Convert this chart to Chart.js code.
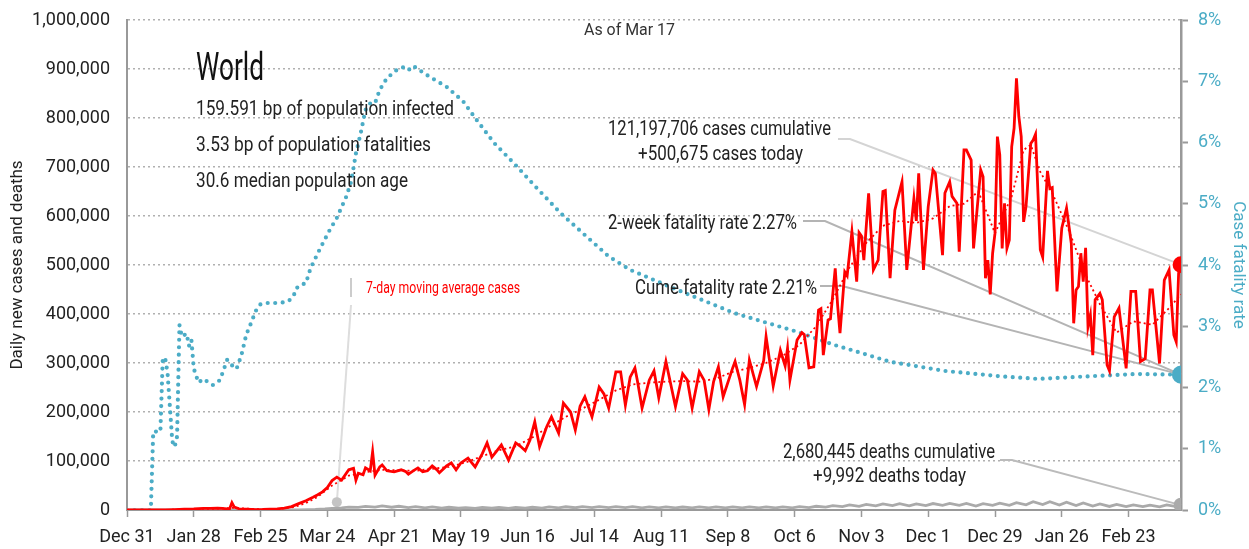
<!DOCTYPE html>
<html>
<head>
<meta charset="utf-8">
<script src="https://cdn.jsdelivr.net/npm/chart.js@4"></script>
<style>
  html, body { margin: 0; padding: 0; background: #fff; }
  #wrap { width: 1249px; height: 549px; position: relative; }
</style>
</head>
<body>
<div id="wrap"><canvas id="myChart"></canvas></div>
<script>
/* data: x = days since Dec 31, 2019 */
const xTickLabels = ['Dec 31', 'Jan 28', 'Feb 25', 'Mar 24', 'Apr 21', 'May 19', 'Jun 16', 'Jul 14',
  'Aug 11', 'Sep 8', 'Oct 6', 'Nov 3', 'Dec 1', 'Dec 29', 'Jan 26', 'Feb 23'];

const dailyCases = [
  [0,0],[12,0],[16,100],[20,800],[24,1800],[28,2100],[32,3300],[35,3200],[38,3800],[40,3200],[42,2500],
  [43,2000],[44,15000],[45,6000],[47,2500],[50,1600],[54,700],[57,1000],[60,1700],[63,2500],[66,3800],
  [69,7000],[72,13000],[75,19000],[78,26000],[80,31000],[82,37000],[84,46000],[86,60000],[88,67000],
  [90,61000],[93,82000],[95,85000],[96,61000],[97,75000],[99,72000],[100,86000],[102,80000],[103,119000],
  [104,71000],[106,88000],[107,92000],[109,80000],[112,78000],[115,82000],[117,78000],[118,73000],
  [120,80000],[122,86000],[124,78000],[126,80000],[128,90000],[130,82000],[131,76000],[134,90000],
  [136,96000],[138,82000],[140,96000],[143,106000],[146,88000],[149,115000],[151,137000],[153,108000],
  [155,120000],[157,133000],[160,102000],[163,137000],[165,130000],[167,121000],[169,143000],[171,180000],
  [173,129000],[176,170000],[178,190000],[181,157000],[183,218000],[186,200000],[188,163000],[190,212000],
  [192,231000],[195,190000],[198,251000],[200,237000],[202,208000],[205,282000],[207,282000],[209,214000],
  [211,271000],[213,290000],[214,265000],[216,208000],[219,265000],[221,284000],[223,229000],[226,303000],
  [230,211000],[233,278000],[235,265000],[237,208000],[240,282000],[242,265000],[244,205000],[246,262000],
  [248,292000],[250,231000],[254,290000],[255,303000],[257,265000],[259,215000],[261,306000],[264,252000],
  [267,305000],[268,354000],[271,253000],[274,326000],[276,294000],[277,330000],[278,265000],[281,347000],
  [283,362000],[284,358000],[286,290000],[288,292000],[290,408000],[291,411000],[292,316000],[294,388000],
  [295,390000],[297,493000],[298,418000],[299,361000],[301,486000],[302,478000],[304,568000],[306,466000],
  [307,566000],[308,559000],[309,510000],[311,646000],[313,490000],[315,510000],[317,650000],[318,652000],
  [320,473000],[322,612000],[325,670000],[327,490000],[330,636000],[331,590000],[332,687000],[334,490000],
  [336,619000],[338,694000],[339,687000],[342,520000],[343,647000],[345,670000],[346,640000],[348,626000],
  [349,527000],[351,735000],[352,735000],[354,714000],[355,534000],[358,694000],[359,680000],[360,473000],
  [361,510000],[362,440000],[363,524000],[364,565000],[365,762000],[366,725000],[367,534000],[368,626000],
  [369,534000],[370,551000],[371,741000],[372,779000],[373,881000],[374,803000],[375,762000],[376,588000],
  [377,619000],[379,748000],[380,755000],[381,767000],[383,531000],[384,516000],[386,692000],[387,656000],
  [388,658000],[390,446000],[392,575000],[394,616000],[396,544000],[397,381000],[398,449000],[399,456000],
  [400,524000],[401,466000],[402,535000],[403,374000],[404,398000],[405,316000],[406,429000],[408,442000],
  [409,429000],[411,296000],[412,284000],[414,394000],[416,412000],[419,289000],[421,446000],[423,446000],
  [425,303000],[427,309000],[429,449000],[430,449000],[433,299000],[435,469000],[437,490000],[439,357000],
  [440,343000],[441,483000],[442,500675]
];

const movingAvgCases = [
  [0,0],[20,500],[30,2000],[40,2800],[44,4500],[50,3000],[57,1200],[64,2500],[70,6000],[75,14000],
  [80,27000],[86,50000],[93,70000],[100,77000],[107,82000],[114,81000],[121,80000],[128,84000],[135,88000],
  [142,97000],[149,110000],[156,122000],[163,130000],[170,148000],[177,170000],[184,190000],[191,207000],
  [198,225000],[205,244000],[212,256000],[219,260000],[226,262000],[233,263000],[240,262000],[247,268000],
  [254,282000],[261,290000],[268,300000],[275,315000],[282,337000],[289,375000],[296,430000],[303,495000],
  [310,545000],[317,580000],[324,590000],[331,586000],[338,595000],[345,620000],[351,625000],[357,650000],
  [364,565000],[371,640000],[376,735000],[379,745000],[383,690000],[388,647000],[395,570000],[402,480000],
  [408,420000],[415,362000],[422,385000],[430,378000],[437,412000],[442,440000]
];

const dailyDeaths = [
  [0,0],[20,50],[24,60],[30,60],[34,90],[38,100],[42,110],[44,250],[46,140],[50,100],[55,80],[58,70],
  [62,80],[65,120],[69,280],[72,350],[76,750],[79,1100],[83,2200],[86,3400],[90,4200],[93,6000],[97,5300],
  [100,7300],[104,5800],[107,8200],[111,5600],[114,7600],[118,5000],[121,7000],[125,4300],[128,6200],
  [132,3900],[135,5600],[139,3600],[142,5000],[146,3400],[149,5100],[153,3600],[156,5200],[160,3500],
  [163,5300],[167,3900],[170,5600],[174,4000],[177,6200],[181,4300],[184,6600],[188,4600],[191,6800],
  [195,4700],[198,7000],[202,4800],[205,6800],[209,4700],[212,6700],[216,4400],[219,6300],[223,4300],
  [226,6200],[230,4200],[233,6100],[237,4300],[240,6200],[244,4200],[247,6200],[251,4300],[254,6300],
  [258,4200],[261,6300],[265,4300],[268,6300],[272,4500],[275,6500],[279,4400],[282,6700],[286,5000],
  [289,7600],[293,6000],[296,9000],[300,6800],[303,10400],[307,7500],[310,11500],[314,8400],[317,12600],
  [321,8800],[324,12800],[328,8400],[331,12600],[335,9000],[338,13200],[342,9600],[345,13600],[349,9600],
  [352,13300],[356,8200],[359,12800],[363,9500],[366,13800],[370,9600],[373,15000],[377,10500],[380,16800],
  [384,11000],[387,17000],[391,10000],[394,16000],[398,9000],[401,14500],[405,8000],[408,12500],[412,7300],
  [415,11500],[419,6900],[422,10500],[426,6800],[429,10000],[433,6500],[436,10500],[440,6800],[442,9992]
];

// case fatality rate, percent (right axis)
const fatalityRate = [
  [0,0],[10,0],[11,1.28],[14,1.28],[15,2.48],[16,2.48],[17,2.24],[19,1.12],[20,1.03],[21,1.2],[22,3.02],
  [23,2.83],[25,2.88],[26,2.68],[27,2.78],[28,2.31],[29,2.19],[30,2.08],[32,2.14],[36,2.04],[39,2.12],
  [42,2.45],[43,2.42],[45,2.31],[46,2.31],[47,2.42],[48,2.53],[50,2.86],[52,3.05],[54,3.25],[56,3.36],
  [59,3.38],[64,3.38],[67,3.40],[68,3.42],[70,3.51],[71,3.62],[73,3.68],[75,3.70],[77,3.95],[81,4.27],
  [85,4.57],[88,4.77],[92,5.12],[94,5.36],[96,5.82],[98,6.15],[100,6.53],[102,6.64],[104,6.64],[106,6.86],
  [109,7.05],[113,7.18],[116,7.23],[118,7.18],[120,7.25],[127,7.07],[134,6.91],[141,6.67],[146,6.40],
  [154,5.99],[163,5.63],[172,5.25],[182,4.84],[192,4.49],[202,4.14],[211,3.92],[231,3.59],[255,3.21],
  [281,2.91],[297,2.69],[304,2.61],[320,2.42],[343,2.27],[367,2.18],[382,2.14],[402,2.18],[423,2.22],
  [442,2.21]
];

const RED = '#ff0000';
const BLUE = '#4bacc6';
const GRAY = '#aaaaaa';
const FONT = 'Roboto, "DejaVu Sans", sans-serif';

const toXY = arr => arr.map(p => ({x: p[0], y: p[1]}));
const lastOnly = r => ctx => ctx.dataIndex === ctx.dataset.data.length - 1 ? r : 0;

/* callouts and text */
const annotations = {
  id: 'annotations',
  beforeDatasetsDraw(chart) {
    const {ctx, scales: {x, y, y2}} = chart;
    const endX = x.getPixelForValue(442);
    const line = (pts, color) => {
      ctx.save();
      ctx.strokeStyle = color;
      ctx.lineWidth = 2;
      ctx.beginPath();
      ctx.moveTo(pts[0][0], pts[0][1]);
      pts.slice(1).forEach(p => ctx.lineTo(p[0], p[1]));
      ctx.stroke();
      ctx.restore();
    };
    const lastCase = dailyCases[dailyCases.length - 1][1];
    const lastDeath = dailyDeaths[dailyDeaths.length - 1][1];
    const lastRate = fatalityRate[fatalityRate.length - 1][1];
    line([[838, 139], [850, 139], [endX, y.getPixelForValue(lastCase)]], '#d4d4d4');
    line([[803, 221], [825, 221], [endX, y2.getPixelForValue(lastRate)]], '#b4b4b4');
    line([[820, 286], [842, 286], [endX, y2.getPixelForValue(lastRate)]], '#b4b4b4');
    line([[1000, 460], [1012, 460], [endX, y.getPixelForValue(lastDeath)]], '#bbbbbb');
    // 7-day average pointer
    const dx = x.getPixelForValue(88), dy = y.getPixelForValue(16000);
    line([[351, 305], [dx, dy]], '#dddddd');
    line([[351, 278], [351, 297]], '#cccccc');
    ctx.save();
    ctx.fillStyle = '#c4c4c4';
    ctx.beginPath();
    ctx.arc(dx, dy, 5, 0, Math.PI * 2);
    ctx.fill();
    ctx.restore();
  },
  afterDraw(chart) {
    const {ctx} = chart;
    // condensed look: squeeze each string to the width it has in the original
    const text = (s, px, py, size, align, width, color) => {
      ctx.save();
      ctx.font = size + 'px ' + FONT;
      const k = width / ctx.measureText(s).width;
      ctx.translate(px, py);
      ctx.scale(k, 1);
      ctx.fillStyle = color || '#222';
      ctx.textAlign = align;
      ctx.textBaseline = 'alphabetic';
      ctx.fillText(s, 0, 0);
      ctx.restore();
    };
    text('As of Mar 17', 629.5, 35, 17, 'center', 91, '#333');
    text('World', 196, 80, 38, 'left', 68, '#111');
    text('159.591 bp of population infected', 196, 115, 21, 'left', 258);
    text('3.53 bp of population fatalities', 196, 151, 21, 'left', 235);
    text('30.6 median population age', 196, 187, 21, 'left', 212);
    text('121,197,706 cases cumulative', 719.5, 135, 21, 'center', 223);
    text('+500,675 cases today', 720.5, 159.5, 21, 'center', 165);
    text('2-week fatality rate 2.27%', 797, 228.5, 21, 'right', 189);
    text('Cume fatality rate 2.21%', 817, 293.5, 21, 'right', 182);
    text('2,680,445 deaths cumulative', 889, 457.5, 21, 'center', 212);
    text('+9,992 deaths today', 889.5, 481.5, 21, 'center', 153);
    text('7-day moving average cases', 366, 293, 16, 'left', 154, RED);
  }
};

const ctx = document.getElementById('myChart').getContext('2d');
const myChart = new Chart(ctx, {
  type: 'line',
  data: {
    datasets: [
      {
        label: 'Daily new cases',
        data: toXY(dailyCases),
        borderColor: RED,
        backgroundColor: RED,
        borderWidth: 2.8,
        pointRadius: lastOnly(7),
        yAxisID: 'y',
        order: 1
      },
      {
        label: '7-day moving average cases',
        data: toXY(movingAvgCases),
        borderColor: RED,
        borderWidth: 1.8,
        borderDash: [2, 3],
        pointRadius: 0,
        yAxisID: 'y',
        order: 2
      },
      {
        label: 'Daily deaths',
        data: toXY(dailyDeaths),
        borderColor: GRAY,
        backgroundColor: GRAY,
        borderWidth: 2.8,
        pointRadius: lastOnly(6),
        yAxisID: 'y',
        order: 3
      },
      {
        label: 'Case fatality rate',
        data: toXY(fatalityRate),
        borderColor: BLUE,
        backgroundColor: BLUE,
        borderWidth: 4.2,
        borderDash: [0, 7.5],
        borderCapStyle: 'round',
        pointRadius: lastOnly(7),
        yAxisID: 'y2',
        order: 4
      }
    ]
  },
  options: {
    responsive: true,
    maintainAspectRatio: false,
    animation: false,
    layout: {padding: {top: 20}},
    plugins: {legend: {display: false}, tooltip: {enabled: false}},
    scales: {
      x: {
        type: 'linear',
        min: 0,
        max: 442,
        afterBuildTicks: s => { s.ticks = xTickLabels.map((_, i) => ({value: i * 28})); },
        afterFit: s => { s.height = 39; s.paddingLeft = 0; s.paddingRight = 0; },
        ticks: {
          callback: v => xTickLabels[Math.round(v / 28)],
          font: {family: FONT, size: 18},
          color: '#222',
          maxRotation: 0,
          autoSkip: false,
          padding: 10
        },
        grid: {drawOnChartArea: false, drawTicks: true, tickLength: 7, tickColor: '#999', tickWidth: 1.5},
        border: {color: '#999', width: 2}
      },
      y: {
        position: 'left',
        min: 0,
        max: 1000000,
        afterFit: s => { s.width = 127; s.paddingTop = 0; s.paddingBottom = 0; },
        ticks: {
          stepSize: 100000,
          callback: v => v.toLocaleString('en-US'),
          font: {family: FONT, size: 18},
          color: '#222',
          padding: 17
        },
        grid: {color: '#b0b0b0', lineWidth: 1.5, drawTicks: false},
        border: {color: '#999', width: 2, dash: [2, 3]},
        title: {
          display: true,
          text: 'Daily new cases and deaths',
          font: {family: FONT, size: 17},
          color: '#222',
          padding: {top: 8}
        }
      },
      y2: {
        position: 'right',
        min: 0,
        max: 8,
        afterFit: s => { s.width = 68; s.paddingTop = 0; s.paddingBottom = 0; },
        ticks: {
          stepSize: 1,
          callback: v => v + '%',
          font: {family: FONT, size: 18},
          color: BLUE,
          padding: 10
        },
        grid: {drawOnChartArea: false, drawTicks: true, tickLength: 7, tickColor: '#999', tickWidth: 2},
        border: {color: '#999', width: 2.5},
        title: {
          display: true,
          text: 'Case fatality rate',
          font: {family: FONT, size: 17},
          color: BLUE,
          padding: {top: 1, bottom: 1}
        }
      }
    }
  },
  plugins: [annotations]
});
</script>
</body>
</html>
